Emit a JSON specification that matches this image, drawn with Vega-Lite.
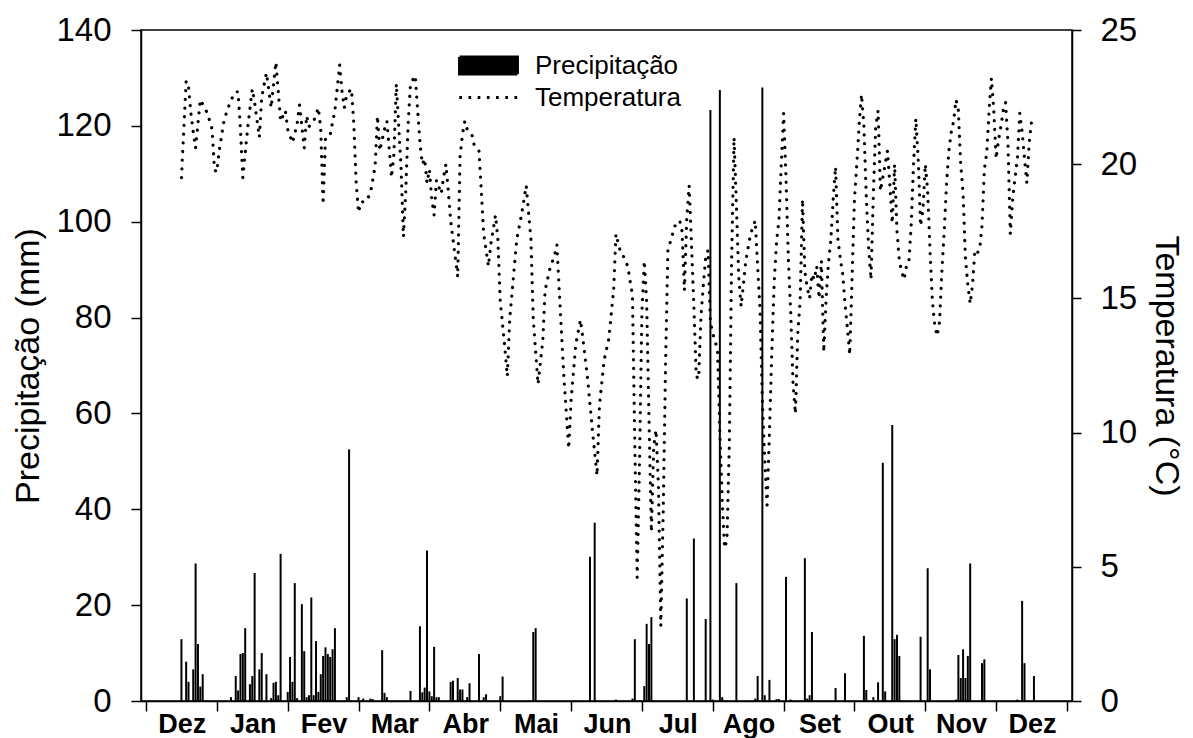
{
"$schema":"https://vega.github.io/schema/vega-lite/v6.json",
"width":931,"height":671,
"autosize":{"type":"none"},
"padding":{"left":141,"top":30,"right":121,"bottom":37},
"background":"white",
"config":{"font":"Liberation Sans","view":{"stroke":"black","strokeWidth":1.5},
 "axis":{"grid":false,"domainColor":"black","tickColor":"black","labelColor":"black","titleColor":"black","domainWidth":1.5,"tickWidth":1.5,"labelFont":"Liberation Sans","titleFont":"Liberation Sans","titleFontWeight":"normal"}},
"datasets":{
"precip":[{"dia":15,"mm":12.9},{"dia":17,"mm":8.2},{"dia":18,"mm":4.0},{"dia":20,"mm":6.6},{"dia":21,"mm":28.7},{"dia":22,"mm":11.9},{"dia":23,"mm":3.0},{"dia":24,"mm":5.6},{"dia":36,"mm":0.8},{"dia":38,"mm":5.2},{"dia":39,"mm":2.2},{"dia":40,"mm":9.8},{"dia":41,"mm":10.0},{"dia":42,"mm":15.2},{"dia":44,"mm":3.5},{"dia":45,"mm":5.2},{"dia":46,"mm":26.7},{"dia":48,"mm":6.6},{"dia":49,"mm":10.0},{"dia":51,"mm":5.6},{"dia":53,"mm":0.6},{"dia":54,"mm":3.8},{"dia":55,"mm":4.0},{"dia":56,"mm":1.2},{"dia":57,"mm":30.7},{"dia":60,"mm":1.9},{"dia":61,"mm":9.2},{"dia":62,"mm":4.0},{"dia":63,"mm":24.6},{"dia":64,"mm":0.6},{"dia":66,"mm":20.2},{"dia":67,"mm":10.4},{"dia":68,"mm":0.8},{"dia":69,"mm":1.2},{"dia":70,"mm":21.6},{"dia":71,"mm":1.2},{"dia":72,"mm":12.5},{"dia":73,"mm":1.9},{"dia":74,"mm":5.6},{"dia":75,"mm":9.4},{"dia":76,"mm":11.2},{"dia":77,"mm":9.8},{"dia":78,"mm":9.2},{"dia":79,"mm":10.8},{"dia":80,"mm":15.2},{"dia":85,"mm":0.8},{"dia":86,"mm":52.5},{"dia":90,"mm":0.8},{"dia":92,"mm":0.5},{"dia":95,"mm":0.5},{"dia":96,"mm":0.4},{"dia":100,"mm":10.6},{"dia":101,"mm":1.7},{"dia":102,"mm":0.8},{"dia":112,"mm":2.1},{"dia":116,"mm":15.6},{"dia":117,"mm":1.8},{"dia":118,"mm":2.8},{"dia":119,"mm":31.4},{"dia":120,"mm":2.0},{"dia":121,"mm":1.0},{"dia":122,"mm":11.3},{"dia":123,"mm":0.8},{"dia":124,"mm":0.8},{"dia":129,"mm":4.0},{"dia":130,"mm":4.2},{"dia":132,"mm":4.8},{"dia":133,"mm":2.4},{"dia":134,"mm":2.4},{"dia":136,"mm":0.8},{"dia":137,"mm":3.7},{"dia":141,"mm":9.8},{"dia":143,"mm":0.8},{"dia":144,"mm":1.4},{"dia":150,"mm":1.0},{"dia":151,"mm":5.1},{"dia":164,"mm":14.4},{"dia":165,"mm":15.2},{"dia":188,"mm":30.1},{"dia":190,"mm":37.2},{"dia":199,"mm":0.3},{"dia":206,"mm":0.5},{"dia":207,"mm":12.9},{"dia":211,"mm":3.1},{"dia":212,"mm":16.1},{"dia":213,"mm":11.9},{"dia":214,"mm":17.5},{"dia":229,"mm":21.4},{"dia":232,"mm":33.9},{"dia":237,"mm":17.1},{"dia":239,"mm":123.3},{"dia":240,"mm":0.3},{"dia":243,"mm":127.5},{"dia":244,"mm":0.8},{"dia":250,"mm":24.6},{"dia":258,"mm":0.5},{"dia":259,"mm":5.2},{"dia":261,"mm":128.0},{"dia":262,"mm":1.2},{"dia":264,"mm":4.4},{"dia":267,"mm":0.4},{"dia":268,"mm":0.4},{"dia":271,"mm":25.9},{"dia":273,"mm":0.3},{"dia":279,"mm":29.8},{"dia":280,"mm":0.5},{"dia":281,"mm":1.2},{"dia":282,"mm":14.4},{"dia":292,"mm":2.7},{"dia":296,"mm":5.8},{"dia":304,"mm":13.6},{"dia":305,"mm":2.3},{"dia":308,"mm":0.8},{"dia":310,"mm":3.9},{"dia":312,"mm":49.7},{"dia":313,"mm":2.0},{"dia":316,"mm":57.6},{"dia":317,"mm":12.9},{"dia":318,"mm":13.8},{"dia":319,"mm":9.4},{"dia":328,"mm":13.4},{"dia":331,"mm":27.7},{"dia":332,"mm":6.6},{"dia":343,"mm":0.3},{"dia":344,"mm":9.6},{"dia":345,"mm":4.8},{"dia":346,"mm":10.8},{"dia":347,"mm":4.8},{"dia":348,"mm":9.4},{"dia":349,"mm":28.7},{"dia":354,"mm":7.9},{"dia":355,"mm":8.7},{"dia":369,"mm":0.3},{"dia":371,"mm":20.9},{"dia":372,"mm":7.9},{"dia":376,"mm":5.2}],
"temp":[{"dia":15,"t":19.5},{"dia":17,"t":23.1},{"dia":18,"t":22.9},{"dia":19,"t":21.9},{"dia":20,"t":21.2},{"dia":21,"t":20.6},{"dia":23,"t":22.4},{"dia":26,"t":21.9},{"dia":28,"t":21.3},{"dia":29,"t":19.8},{"dia":30,"t":19.7},{"dia":31,"t":20.5},{"dia":33,"t":21.6},{"dia":34,"t":21.9},{"dia":36,"t":22.4},{"dia":38,"t":22.7},{"dia":39,"t":22.7},{"dia":40,"t":21.3},{"dia":41,"t":19.5},{"dia":43,"t":21.3},{"dia":45,"t":22.8},{"dia":46,"t":22.3},{"dia":48,"t":21.0},{"dia":49,"t":22.5},{"dia":51,"t":23.4},{"dia":53,"t":22.1},{"dia":55,"t":23.8},{"dia":56,"t":22.7},{"dia":57,"t":21.6},{"dia":59,"t":22.0},{"dia":60,"t":21.3},{"dia":62,"t":20.8},{"dia":64,"t":21.5},{"dia":65,"t":22.2},{"dia":67,"t":20.6},{"dia":68,"t":21.8},{"dia":69,"t":21.4},{"dia":71,"t":21.6},{"dia":73,"t":22.1},{"dia":74,"t":21.3},{"dia":75,"t":18.5},{"dia":76,"t":21.0},{"dia":78,"t":21.1},{"dia":80,"t":22.0},{"dia":82,"t":23.7},{"dia":83,"t":22.7},{"dia":84,"t":22.1},{"dia":85,"t":22.6},{"dia":87,"t":22.8},{"dia":88,"t":21.5},{"dia":89,"t":19.3},{"dia":90,"t":18.2},{"dia":91,"t":18.6},{"dia":93,"t":18.6},{"dia":95,"t":18.9},{"dia":97,"t":19.9},{"dia":98,"t":21.8},{"dia":99,"t":20.5},{"dia":101,"t":21.3},{"dia":102,"t":21.6},{"dia":104,"t":19.5},{"dia":105,"t":20.4},{"dia":106,"t":23.0},{"dia":108,"t":19.9},{"dia":109,"t":17.3},{"dia":110,"t":19.0},{"dia":111,"t":21.5},{"dia":112,"t":23.0},{"dia":114,"t":23.3},{"dia":116,"t":20.8},{"dia":117,"t":20.0},{"dia":118,"t":20.2},{"dia":119,"t":19.3},{"dia":120,"t":19.8},{"dia":121,"t":18.7},{"dia":122,"t":18.1},{"dia":123,"t":19.4},{"dia":125,"t":18.9},{"dia":126,"t":19.5},{"dia":127,"t":20.0},{"dia":128,"t":19.0},{"dia":129,"t":17.9},{"dia":130,"t":17.2},{"dia":131,"t":16.5},{"dia":132,"t":15.8},{"dia":133,"t":20.3},{"dia":134,"t":21.1},{"dia":135,"t":21.6},{"dia":136,"t":21.3},{"dia":138,"t":21.1},{"dia":139,"t":20.7},{"dia":141,"t":20.5},{"dia":142,"t":19.0},{"dia":143,"t":17.4},{"dia":145,"t":16.2},{"dia":146,"t":17.0},{"dia":148,"t":18.1},{"dia":149,"t":17.2},{"dia":150,"t":14.9},{"dia":152,"t":13.1},{"dia":153,"t":12.1},{"dia":154,"t":14.2},{"dia":156,"t":16.2},{"dia":157,"t":17.2},{"dia":159,"t":18.1},{"dia":161,"t":19.2},{"dia":163,"t":17.2},{"dia":164,"t":14.2},{"dia":166,"t":11.8},{"dia":168,"t":13.4},{"dia":169,"t":15.3},{"dia":171,"t":16.1},{"dia":173,"t":16.6},{"dia":174,"t":17.0},{"dia":175,"t":15.3},{"dia":177,"t":12.0},{"dia":179,"t":9.4},{"dia":180,"t":11.2},{"dia":182,"t":13.3},{"dia":184,"t":14.2},{"dia":185,"t":13.5},{"dia":187,"t":12.0},{"dia":189,"t":10.1},{"dia":191,"t":8.4},{"dia":192,"t":11.0},{"dia":194,"t":12.7},{"dia":196,"t":13.5},{"dia":198,"t":15.3},{"dia":199,"t":17.4},{"dia":201,"t":16.7},{"dia":202,"t":16.6},{"dia":204,"t":16.2},{"dia":206,"t":15.1},{"dia":207,"t":9.5},{"dia":208,"t":4.6},{"dia":209,"t":9.0},{"dia":210,"t":14.5},{"dia":211,"t":16.4},{"dia":212,"t":14.9},{"dia":213,"t":10.5},{"dia":214,"t":6.3},{"dia":215,"t":9.5},{"dia":216,"t":10.1},{"dia":217,"t":8.0},{"dia":218,"t":2.8},{"dia":219,"t":7.0},{"dia":220,"t":12.5},{"dia":221,"t":16.8},{"dia":223,"t":17.4},{"dia":224,"t":17.7},{"dia":226,"t":17.9},{"dia":227,"t":17.5},{"dia":228,"t":15.3},{"dia":229,"t":18.0},{"dia":230,"t":19.2},{"dia":231,"t":17.0},{"dia":232,"t":14.7},{"dia":233,"t":12.1},{"dia":234,"t":12.0},{"dia":235,"t":14.3},{"dia":236,"t":15.5},{"dia":237,"t":16.5},{"dia":238,"t":16.8},{"dia":239,"t":14.1},{"dia":240,"t":13.7},{"dia":242,"t":13.1},{"dia":243,"t":10.0},{"dia":244,"t":7.5},{"dia":245,"t":5.7},{"dia":246,"t":6.0},{"dia":247,"t":9.5},{"dia":248,"t":16.5},{"dia":249,"t":21.0},{"dia":250,"t":18.5},{"dia":251,"t":15.8},{"dia":252,"t":14.7},{"dia":254,"t":16.4},{"dia":256,"t":17.4},{"dia":258,"t":17.9},{"dia":259,"t":16.2},{"dia":260,"t":14.6},{"dia":261,"t":11.2},{"dia":262,"t":9.0},{"dia":263,"t":7.3},{"dia":264,"t":10.0},{"dia":265,"t":13.0},{"dia":266,"t":15.6},{"dia":267,"t":17.1},{"dia":268,"t":17.9},{"dia":269,"t":20.0},{"dia":270,"t":21.9},{"dia":271,"t":19.5},{"dia":272,"t":16.5},{"dia":273,"t":14.5},{"dia":274,"t":11.8},{"dia":275,"t":10.7},{"dia":276,"t":13.7},{"dia":277,"t":14.9},{"dia":278,"t":18.7},{"dia":279,"t":16.0},{"dia":280,"t":15.4},{"dia":281,"t":15.0},{"dia":282,"t":15.9},{"dia":283,"t":15.7},{"dia":284,"t":16.2},{"dia":285,"t":15.0},{"dia":286,"t":16.4},{"dia":287,"t":13.0},{"dia":288,"t":15.0},{"dia":289,"t":16.3},{"dia":290,"t":17.2},{"dia":291,"t":18.7},{"dia":292,"t":19.9},{"dia":293,"t":17.2},{"dia":294,"t":16.5},{"dia":295,"t":15.9},{"dia":296,"t":14.8},{"dia":297,"t":13.9},{"dia":298,"t":12.9},{"dia":299,"t":15.8},{"dia":300,"t":18.7},{"dia":301,"t":20.0},{"dia":302,"t":21.5},{"dia":303,"t":22.6},{"dia":304,"t":21.4},{"dia":305,"t":18.8},{"dia":306,"t":16.9},{"dia":307,"t":15.7},{"dia":308,"t":18.9},{"dia":309,"t":21.4},{"dia":310,"t":22.0},{"dia":311,"t":19.0},{"dia":312,"t":19.5},{"dia":313,"t":20.0},{"dia":314,"t":20.5},{"dia":315,"t":19.2},{"dia":316,"t":17.8},{"dia":317,"t":20.0},{"dia":318,"t":17.5},{"dia":319,"t":16.4},{"dia":320,"t":16.0},{"dia":321,"t":15.7},{"dia":322,"t":16.2},{"dia":323,"t":16.3},{"dia":324,"t":17.7},{"dia":325,"t":20.0},{"dia":326,"t":21.7},{"dia":327,"t":20.2},{"dia":328,"t":17.7},{"dia":329,"t":18.3},{"dia":330,"t":20.0},{"dia":331,"t":19.0},{"dia":332,"t":16.8},{"dia":333,"t":14.9},{"dia":334,"t":14.0},{"dia":335,"t":13.6},{"dia":336,"t":14.1},{"dia":337,"t":16.0},{"dia":338,"t":17.5},{"dia":339,"t":19.3},{"dia":340,"t":20.5},{"dia":341,"t":21.2},{"dia":342,"t":21.6},{"dia":343,"t":22.4},{"dia":344,"t":22.0},{"dia":345,"t":20.0},{"dia":346,"t":18.9},{"dia":347,"t":16.5},{"dia":348,"t":15.5},{"dia":349,"t":14.8},{"dia":350,"t":15.5},{"dia":351,"t":16.8},{"dia":352,"t":16.7},{"dia":353,"t":16.8},{"dia":354,"t":17.7},{"dia":355,"t":19.8},{"dia":356,"t":20.4},{"dia":357,"t":22.0},{"dia":358,"t":23.2},{"dia":359,"t":22.0},{"dia":360,"t":20.2},{"dia":361,"t":20.9},{"dia":362,"t":21.4},{"dia":363,"t":22.0},{"dia":364,"t":22.3},{"dia":365,"t":20.8},{"dia":366,"t":17.4},{"dia":367,"t":18.7},{"dia":368,"t":19.5},{"dia":369,"t":20.2},{"dia":370,"t":21.9},{"dia":371,"t":21.2},{"dia":372,"t":20.2},{"dia":373,"t":19.3},{"dia":374,"t":20.8},{"dia":375,"t":21.6}]
},
"layer":[
 {"data":{"name":"precip"},
  "mark":{"type":"bar","width":2},
  "encoding":{
   "x":{"field":"dia","type":"quantitative","scale":{"domain":[0,390],"nice":false,"zero":false},
        "axis":{"values":[0,30,60,90,120,150,180,210,240,270,300,330,360,390],"labelExpr":"['Dez','Jan','Fev','Mar','Abr','Mai','Jun','Jul','Ago','Set','Out','Nov','Dez',''][round(datum.value/30)]","labelOffset":35.8,"tickSize":10,"labelFontSize":27,"labelFontWeight":"bold","labelPadding":0,"labelFlush":false,"labelOverlap":false,"labelBound":false,"title":null}},
   "y":{"field":"mm","type":"quantitative","scale":{"domain":[0,140],"nice":false},
        "axis":{"values":[0,20,40,60,80,100,120,140],"tickSize":10,"labelFontSize":33,"labelPadding":20,"title":"Precipitação (mm)","titleFontSize":34,"titlePadding":10}},
   "color":{"datum":"Precipitação","type":"nominal","scale":{"domain":["Precipitação","Temperatura"],"range":["black","black"]},
        "legend":{"orient":"none","legendX":331,"legendY":19,"title":null,"padding":0,
          "symbolType":{"expr":"datum.value == 'Precipitação' ? 'M-1.93,-0.57H1.93V0.57H-1.93Z' : 'M-1.95,0H2'"},
          "symbolSize":900,
          "symbolFillColor":{"expr":"datum.value == 'Precipitação' ? 'black' : 'transparent'"},
          "symbolStrokeColor":"black",
          "symbolStrokeWidth":3,
          "symbolDash":{"expr":"datum.value == 'Precipitação' ? [1,0] : [2.7,6.5]"},
          "labelFont":"Liberation Sans","labelFontSize":26,"labelColor":"black","labelOffset":30,"rowPadding":-1}}
  }},
 {"data":{"name":"temp"},
  "mark":{"type":"line","strokeDash":[0.1,8.6],"strokeWidth":3.2,"strokeCap":"round"},
  "encoding":{
   "x":{"field":"dia","type":"quantitative"},
   "y":{"field":"t","type":"quantitative","scale":{"domain":[0,25],"nice":false},
        "axis":{"orient":"right","values":[0,5,10,15,20,25],"tickSize":9,"labelFontSize":33,"labelPadding":19,"title":"Temperatura (°C)","titleFontSize":34,"titlePadding":12}},
   "color":{"datum":"Temperatura","type":"nominal"}
  }}
],
"resolve":{"scale":{"y":"independent"}}
}
